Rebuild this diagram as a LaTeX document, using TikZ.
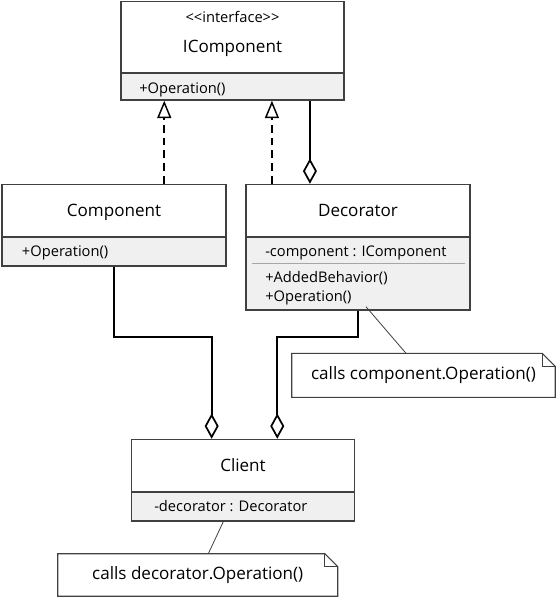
\documentclass[tikz,border=0pt]{standalone}
\usepackage{fontspec}
\setmainfont{Open Sans}
\usetikzlibrary{arrows.meta,fit}
\definecolor{edgecol}{HTML}{404040}
\definecolor{compcol}{HTML}{F0F0F0}
\begin{document}
\begin{tikzpicture}[x=0.75pt,y=-0.75pt,
  classbox/.style={draw=edgecol, line width=1.1pt, inner sep=0pt},
  compfill/.style={fill=compcol},
  divider/.style={draw=edgecol, line width=1.1pt},
  thindiv/.style={draw=gray!70, line width=0.5pt},
  bigtxt/.style={inner sep=0pt, font=\fontsize{12.8}{15}\selectfont},
  smalltxt/.style={inner sep=0pt, font=\fontsize{11}{13}\selectfont},
  realize/.style={draw=black, line width=1.3pt, dash pattern=on 5.8pt off 3.8pt, -{Triangle[open,length=13pt,width=10.5pt,line width=1.1pt]}},
  aggr/.style={draw=black, line width=1.3pt, line join=miter, -{Diamond[open,length=19pt,width=10.5pt]}},
  notebox/.style={inner sep=0pt, font=\fontsize{12.8}{15}\selectfont},
  notedraw/.style={draw=edgecol, line width=0.8pt},
  noteline/.style={draw=edgecol, line width=0.6pt}]
\useasboundingbox (0,0) rectangle (557,598);

% ---------- IComponent ----------
\fill[compfill] (121,73) rectangle (344,100);
\coordinate (ic1) at (121,1.5); \coordinate (ic2) at (344,100);
\node[classbox, fit=(ic1)(ic2)] (icomp) {};
\draw[divider] (121,73) -- (344,73);
\node[smalltxt, anchor=base] (icst) at (232.5,23) {{<}{<}interface{>}{>}};
\node[bigtxt, anchor=base] (icname) at (232.5,52.7) {IComponent};
\node[smalltxt, anchor=base west] (icop) at (139,93.5) {+Operation()};

% ---------- Component ----------
\fill[compfill] (2,237) rectangle (226,266);
\coordinate (co1) at (2,184.5); \coordinate (co2) at (226,266);
\node[classbox, fit=(co1)(co2)] (comp) {};
\draw[divider] (2,237) -- (226,237);
\node[bigtxt, anchor=base] (coname) at (114,216.7) {Component};
\node[smalltxt, anchor=base west] (coop) at (21.7,256) {+Operation()};

% ---------- Decorator ----------
\fill[compfill] (246,237) rectangle (470,310);
\coordinate (de1) at (246,184.5); \coordinate (de2) at (470,310);
\node[classbox, fit=(de1)(de2)] (dec) {};
\draw[divider] (246,237) -- (470,237);
\draw[thindiv] (252,263.3) -- (465,263.3);
\node[bigtxt, anchor=base] (dename) at (358,216.7) {Decorator};
\node[smalltxt, anchor=base west] (deattr) at (265,256) {-component : IComponent};
\node[smalltxt, anchor=base west] (deop1) at (265,282) {+AddedBehavior()};
\node[smalltxt, anchor=base west] (deop2) at (265,301) {+Operation()};

% ---------- Client ----------
\fill[compfill] (131.5,492) rectangle (354.5,521);
\coordinate (cl1) at (131.5,439.5); \coordinate (cl2) at (354.5,521);
\node[classbox, fit=(cl1)(cl2)] (client) {};
\draw[divider] (131.5,492) -- (354.5,492);
\node[bigtxt, anchor=base] (clname) at (243,471) {Client};
\node[smalltxt, anchor=base west] (clattr) at (154,511) {-decorator : Decorator};

% ---------- Notes ----------
\node[notebox, minimum width=197.25pt, minimum height=32.6pt] (n1) at (423.5,375.3) {calls component.Operation()};
\draw[notedraw] (n1.north west) -- ([xshift=-9.75pt]n1.north east) -- ([yshift=-9.75pt]n1.north east) -- (n1.south east) -- (n1.south west) -- cycle;
\draw[notedraw] ([xshift=-9.75pt]n1.north east) -- ([xshift=-9.75pt,yshift=-9.75pt]n1.north east) -- ([yshift=-9.75pt]n1.north east);

\node[notebox, minimum width=209.6pt, minimum height=31.5pt] (n2) at (197.75,575) {calls decorator.Operation()};
\draw[notedraw] (n2.north west) -- ([xshift=-9.75pt]n2.north east) -- ([yshift=-9.75pt]n2.north east) -- (n2.south east) -- (n2.south west) -- cycle;
\draw[notedraw] ([xshift=-9.75pt]n2.north east) -- ([xshift=-9.75pt,yshift=-9.75pt]n2.north east) -- ([yshift=-9.75pt]n2.north east);

% ---------- Connectors ----------
\coordinate (r1) at ([xshift=37.7pt]comp.north);
\draw[realize] (r1) -- (r1 |- icomp.south);
\coordinate (r2) at ([xshift=20pt]dec.north west);
\draw[realize] (r2) -- (r2 |- icomp.south);
\coordinate (a1) at ([xshift=48.5pt]dec.north west);
\draw[aggr] (a1 |- icomp.south) -- (a1);

\coordinate (hbus) at (0,337.3);
\coordinate (c1) at ([xshift=-23.5pt]client.north);
\coordinate (c2) at ([xshift=25.7pt]client.north);
\draw[aggr] (comp.south) -- (comp.south |- hbus) -| (c1);
\draw[aggr] (dec.south) -- (dec.south |- hbus) -| (c2);

\draw[noteline] ([xshift=6pt,yshift=3pt]dec.south) -- ([xshift=-13.1pt]n1.north);
\draw[noteline] ([xshift=-14.8pt]client.south) -- ([xshift=7.9pt]n2.north);
\end{tikzpicture}
\end{document}
